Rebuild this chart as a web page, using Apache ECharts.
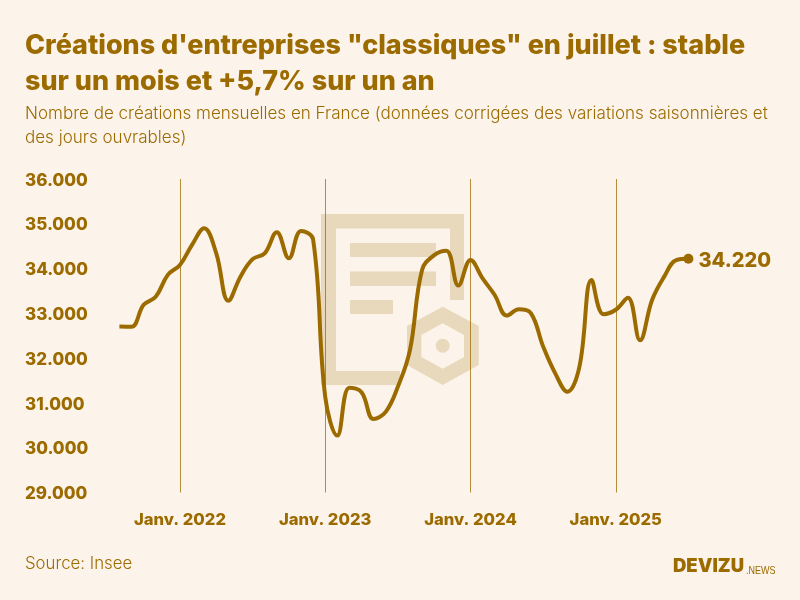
<!DOCTYPE html>
<html><head><meta charset="utf-8">
<style>html,body{margin:0;padding:0;background:#fcf3ea}#c{width:800px;height:600px}</style>
<script src="https://cdn.jsdelivr.net/npm/echarts@6/dist/echarts.min.js"></script>
</head><body><div id="c"></div>
<script>
const months = ['août 2021','sept. 2021','oct. 2021','nov. 2021','déc. 2021',
 'Janv. 2022','févr. 2022','mars 2022','avr. 2022','mai 2022','juin 2022','juil. 2022','août 2022','sept. 2022','oct. 2022','nov. 2022','déc. 2022',
 'Janv. 2023','févr. 2023','mars 2023','avr. 2023','mai 2023','juin 2023','juil. 2023','août 2023','sept. 2023','oct. 2023','nov. 2023','déc. 2023',
 'Janv. 2024','févr. 2024','mars 2024','avr. 2024','mai 2024','juin 2024','juil. 2024','août 2024','sept. 2024','oct. 2024','nov. 2024','déc. 2024',
 'Janv. 2025','févr. 2025','mars 2025','avr. 2025','mai 2025','juin 2025','juil. 2025'];
const creations = [32704,32700,33190,33370,33860,
 34080,34530,34900,34340,33280,33820,34210,34340,34810,34230,34840,34650,
 31140,30270,31340,31240,30640,30800,31360,32180,33970,34300,34400,33620,
 34190,33780,33410,32950,33090,33000,32260,31660,31250,31810,33745,32980,
 33080,33350,32400,33300,33820,34190,34220];
const yTicks = {min:29000,max:36000,step:1000};
const ink = '#9c6b00', bg = '#fcf3ea', wm = '#e8d9bc';
const fmt = v => String(v).replace(/\B(?=(\d{3})+$)/g,'.');
const font = 'Inter';
const poly = (points,fill) => ({type:'polygon',z:0,silent:true,style:{fill},shape:{points}});
const rect = (x,y,width,height) => ({type:'rect',z:0,silent:true,style:{fill:wm},shape:{x,y,width,height}});
const chart = echarts.init(document.getElementById('c'),null,{renderer:'canvas'});
chart.setOption({
 animation:false, backgroundColor:bg,
 title:[
  {text:'Créations d\'entreprises "classiques" en juillet : stable\nsur un mois et +5,7% sur un an',left:25,top:28,padding:0,textStyle:{fontFamily:font,fontWeight:800,fontSize:26.97,lineHeight:36,color:ink}},
  {text:'Nombre de créations mensuelles en France (données corrigées des variations saisonnières et\ndes jours ouvrables)',left:25,top:102,padding:0,textStyle:{fontFamily:font,fontWeight:300,fontSize:17.05,lineHeight:24,color:ink}},
  {text:'Source: Insee',left:25,top:555,padding:0,textStyle:{fontFamily:font,fontWeight:300,fontSize:16.8,color:ink}}
 ],
 grid:{left:119.4,right:111.6,top:179,bottom:107.5,containLabel:false},
 xAxis:{type:'category',data:months,boundaryGap:false,
  axisLine:{show:false},axisTick:{show:false},
  splitLine:{show:true,interval:(i,n)=>n.startsWith('Janv'),lineStyle:{color:ink,width:1,opacity:.75}},
  axisLabel:{interval:(i,n)=>n.startsWith('Janv'),margin:19,color:ink,fontFamily:font,fontWeight:800,fontSize:16.6}},
 yAxis:{type:'value',min:yTicks.min,max:yTicks.max,interval:yTicks.step,
  axisLine:{show:false},axisTick:{show:false},splitLine:{show:false},
  axisLabel:{align:'left',verticalAlign:'top',lineHeight:3,margin:94.4,color:ink,fontFamily:font,fontWeight:800,fontSize:17,formatter:fmt}},
 graphic:{elements:[
  poly([[321,214],[464,214],[464,300],[450,300],[450,228.5],[336,228.5],[336,371],[400,371],[400,385],[321,385]],wm),
  rect(350,243,86,14),rect(350,271.5,86,14.5),rect(350,300,43,14),
  poly([[442.7,306.7],[478.7,326],[478.7,365],[442.7,385],[407,365],[407,326]],wm),
  poly([[442.7,323.3],[464,335],[464,357],[442.7,368.7],[421.3,357],[421.3,335]],bg),
  {type:'circle',z:0,silent:true,style:{fill:wm},shape:{cx:442.7,cy:345.7,r:7}},
  {type:'text',z:1,silent:true,left:673,top:557,style:{text:'DEVIZU',fontFamily:font,fontWeight:900,fontSize:18.5,fill:ink}},
  {type:'text',z:1,silent:true,x:746,y:565,scaleX:.78,style:{text:'.NEWS',fontFamily:'Liberation Sans',fontWeight:400,fontSize:11.5,fill:ink}}
 ]},
 series:[{type:'line',data:creations,smooth:.4,showAllSymbol:true,symbol:'circle',
  symbolSize:(v,p)=>p.dataIndex===creations.length-1?10:0,
  itemStyle:{color:ink},lineStyle:{color:ink,width:4},z:5,
  endLabel:{show:true,formatter:p=>fmt(p.value),distance:10,offset:[0,2],color:ink,fontFamily:font,fontWeight:800,fontSize:20},
  emphasis:{disabled:true}}]
});
</script></body></html>
